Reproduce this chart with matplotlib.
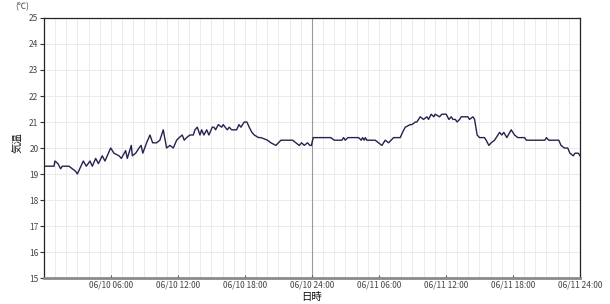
import matplotlib
matplotlib.use("Agg")
import matplotlib.pyplot as plt
import numpy as np

plt.rcParams['font.family'] = ['Noto Sans CJK JP', 'DejaVu Sans']

# hours since 06/10 00:00 and temperature (°C)
hours = [
    0.0, 0.9, 0.98, 1.25, 1.49, 1.64, 2.24, 2.54, 2.84, 2.99,
    3.52, 3.79, 4.12, 4.33, 4.63, 4.87, 5.22, 5.46, 5.97, 6.27,
    6.72, 6.93, 7.31, 7.46, 7.82, 7.91, 8.21, 8.51, 8.7, 8.85,
    9.19, 9.49, 9.73, 10.09, 10.38, 10.68, 10.98, 11.28, 11.58, 11.88,
    12.11, 12.38, 12.56, 12.77, 13.07, 13.37, 13.52, 13.73, 13.97, 14.12,
    14.32, 14.57, 14.77, 15.07, 15.22, 15.37, 15.61, 15.91, 16.05, 16.41,
    16.59, 16.8, 17.25, 17.46, 17.64, 17.93, 18.17, 18.38, 18.62, 18.83,
    19.22, 19.43, 20.02, 20.32, 20.77, 21.22, 22.26, 22.56, 22.86, 23.07,
    23.31, 23.6, 23.81, 23.95, 24.11, 25.69, 25.99, 26.68, 26.83, 26.98,
    27.22, 28.17, 28.41, 28.53, 28.68, 28.77, 28.92, 29.66, 29.96, 30.26,
    30.56, 30.86, 31.31, 31.9, 32.11, 32.35, 32.8, 32.95, 33.25, 33.39,
    33.69, 33.99, 34.29, 34.44, 34.67, 34.91, 35.03, 35.42, 35.63, 36.02,
    36.26, 36.47, 36.62, 36.83, 37.0, 37.22, 37.36, 37.96, 38.11, 38.41,
    38.56, 38.79, 39.0, 39.45, 39.6, 39.84, 40.05, 40.35, 40.65, 40.8,
    41.0, 41.18, 41.45, 41.84, 42.14, 42.43, 43.03, 43.2, 44.85, 45.0,
    45.2, 46.1, 46.3, 46.6, 46.9, 47.1, 47.4, 47.55, 47.85, 48.0,
]
temps = [
    19.3, 19.3, 19.5, 19.4, 19.2, 19.3, 19.3, 19.2, 19.1, 19.0,
    19.5, 19.3, 19.5, 19.3, 19.6, 19.4, 19.7, 19.5, 20.0, 19.8,
    19.7, 19.6, 19.9, 19.6, 20.1, 19.7, 19.8, 20.0, 20.1, 19.8,
    20.2, 20.5, 20.2, 20.2, 20.3, 20.7, 20.0, 20.1, 20.0, 20.3,
    20.4, 20.5, 20.3, 20.4, 20.5, 20.5, 20.7, 20.8, 20.5, 20.7,
    20.5, 20.7, 20.5, 20.8, 20.8, 20.7, 20.9, 20.8, 20.9, 20.7,
    20.8, 20.7, 20.7, 20.9, 20.8, 21.0, 21.0, 20.8, 20.6, 20.5,
    20.4, 20.4, 20.3, 20.2, 20.1, 20.3, 20.3, 20.2, 20.1, 20.2,
    20.1, 20.2, 20.1, 20.1, 20.4, 20.4, 20.3, 20.3, 20.4, 20.3,
    20.4, 20.4, 20.3, 20.4, 20.3, 20.4, 20.3, 20.3, 20.2, 20.1,
    20.3, 20.2, 20.4, 20.4, 20.6, 20.8, 20.9, 20.9, 21.0, 21.0,
    21.2, 21.1, 21.2, 21.1, 21.3, 21.2, 21.3, 21.2, 21.3, 21.3,
    21.1, 21.2, 21.1, 21.1, 21.0, 21.1, 21.2, 21.2, 21.1, 21.2,
    21.1, 20.5, 20.4, 20.4, 20.3, 20.1, 20.2, 20.3, 20.5, 20.6,
    20.5, 20.6, 20.4, 20.7, 20.5, 20.4, 20.4, 20.3, 20.3, 20.4,
    20.3, 20.3, 20.1, 20.0, 20.0, 19.8, 19.7, 19.8, 19.8, 19.7,
]

tick_hours = [6, 12, 18, 24, 30, 36, 42, 48]
tick_labels = ["06/10 06:00", "06/10 12:00", "06/10 18:00", "06/10 24:00",
               "06/11 06:00", "06/11 12:00", "06/11 18:00", "06/11 24:00"]
y_ticks = list(range(15, 26))

fig = plt.figure(figsize=(6.1, 3.04), dpi=100)
ax = fig.add_axes([0.0721, 0.0855, 0.8787, 0.8553])

# hourly vertical grid and integer horizontal grid
for h in range(1, 48):
    ax.axvline(h, color='#ebebeb', lw=0.7, zorder=0)
for t in y_ticks[1:-1]:
    ax.axhline(t, color='#ebebeb', lw=0.7, zorder=0)
ax.axvline(24, color='#9a9a9a', lw=0.8, zorder=1)

ax.plot(hours, temps, color='#23234f', lw=1.0, zorder=3)

ax.set_xlim(0, 48)
ax.set_ylim(15, 25)
ax.set_xticks(tick_hours)
ax.set_xticklabels(tick_labels)
ax.set_yticks(y_ticks)

ax.tick_params(axis='x', direction='in', length=2, width=0.8, color='#555555',
               labelsize=6, labelcolor='#444444', pad=2)
ax.tick_params(axis='y', direction='out', length=3, width=0.8, color='#333333',
               labelsize=6, labelcolor='#444444', pad=1)

for side in ['left', 'right', 'top']:
    ax.spines[side].set_color('#222222')
    ax.spines[side].set_linewidth(0.9)
ax.spines['bottom'].set_color('#8a8a8a')
ax.spines['bottom'].set_linewidth(2.0)

fig.text(22 / 610, 1 - 7 / 304, '(℃)', fontsize=6, color='#444444',
         ha='center', va='center')
fig.text(18 / 610, 1 - 143 / 304, '気温', fontsize=7.5, rotation=90,
         ha='center', va='center', color='#111111')
fig.text(312 / 610, 1 - 297 / 304, '日時', fontsize=7.5,
         ha='center', va='center', color='#111111')

fig.savefig('out.png', dpi=100)
